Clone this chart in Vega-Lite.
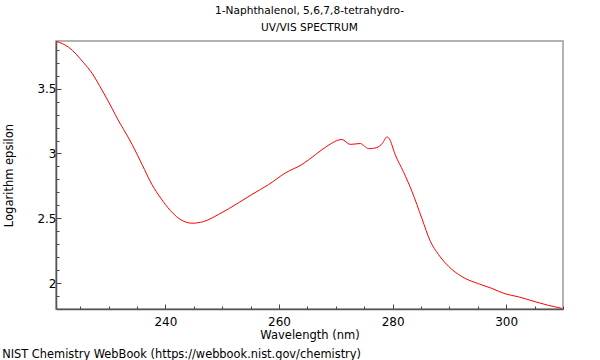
{
  "$schema": "https://vega.github.io/schema/vega-lite/v6.json",
  "padding": {"left": 2, "top": 5, "right": 5, "bottom": 2},
  "background": "white",
  "title": {"text": "NIST Chemistry WebBook (https://webbook.nist.gov/chemistry)", "orient": "bottom", "anchor": "start", "frame": "bounds", "fontSize": 11.4, "font": "DejaVu Sans", "fontWeight": "normal", "color": "#000000", "offset": 8, "dx": -1},
  "config": {"view": {"stroke": "#9a9a9a", "strokeWidth": 1.5}, "font": "DejaVu Sans"},
  "vconcat": [{
    "title": {"text": ["1-Naphthalenol, 5,6,7,8-tetrahydro-", "UV/VIS SPECTRUM"], "anchor": "middle", "frame": "group", "fontSize": 10.6, "fontWeight": "normal", "lineHeight": 17, "offset": 7, "color": "#000000"},
    "width": 507,
    "height": 268,
    "data": {"values": [
      {"wavelength": 220.75, "logeps": 3.866},
      {"wavelength": 222.98, "logeps": 3.82},
      {"wavelength": 225.62, "logeps": 3.70},
      {"wavelength": 227.08, "logeps": 3.62},
      {"wavelength": 228.84, "logeps": 3.49},
      {"wavelength": 230.6, "logeps": 3.35},
      {"wavelength": 231.79, "logeps": 3.25},
      {"wavelength": 232.66, "logeps": 3.185},
      {"wavelength": 234.14, "logeps": 3.07},
      {"wavelength": 235.9, "logeps": 2.915},
      {"wavelength": 237.64, "logeps": 2.76},
      {"wavelength": 239.2, "logeps": 2.655},
      {"wavelength": 240.88, "logeps": 2.56},
      {"wavelength": 242.34, "logeps": 2.50},
      {"wavelength": 244.68, "logeps": 2.462},
      {"wavelength": 246.74, "logeps": 2.475},
      {"wavelength": 249.38, "logeps": 2.53},
      {"wavelength": 252.9, "logeps": 2.62},
      {"wavelength": 255.24, "logeps": 2.684},
      {"wavelength": 258.18, "logeps": 2.76},
      {"wavelength": 261.12, "logeps": 2.85},
      {"wavelength": 264.04, "logeps": 2.915},
      {"wavelength": 266.4, "logeps": 2.99},
      {"wavelength": 268.44, "logeps": 3.056},
      {"wavelength": 271.08, "logeps": 3.108},
      {"wavelength": 272.55, "logeps": 3.07},
      {"wavelength": 274.31, "logeps": 3.077},
      {"wavelength": 275.07, "logeps": 3.056},
      {"wavelength": 275.77, "logeps": 3.037},
      {"wavelength": 277.18, "logeps": 3.045},
      {"wavelength": 278.24, "logeps": 3.08},
      {"wavelength": 279.0, "logeps": 3.128},
      {"wavelength": 279.4, "logeps": 3.115},
      {"wavelength": 280.47, "logeps": 2.99},
      {"wavelength": 281.9, "logeps": 2.86},
      {"wavelength": 283.39, "logeps": 2.71},
      {"wavelength": 285.15, "logeps": 2.50},
      {"wavelength": 286.63, "logeps": 2.324},
      {"wavelength": 288.09, "logeps": 2.22},
      {"wavelength": 290.43, "logeps": 2.106},
      {"wavelength": 292.79, "logeps": 2.036},
      {"wavelength": 295.13, "logeps": 1.995},
      {"wavelength": 297.47, "logeps": 1.959},
      {"wavelength": 299.83, "logeps": 1.917},
      {"wavelength": 302.17, "logeps": 1.894},
      {"wavelength": 305.11, "logeps": 1.856},
      {"wavelength": 307.45, "logeps": 1.828},
      {"wavelength": 309.79, "logeps": 1.805}
    ]},
    "mark": {"type": "line", "color": "#ff0000", "strokeWidth": 1, "interpolate": "monotone", "clip": true},
    "encoding": {
      "x": {
        "field": "wavelength", "type": "quantitative",
        "scale": {"domain": [220.75, 310], "nice": false, "zero": false},
        "axis": {
          "title": "Wavelength (nm)", "titleFontSize": 11.5, "titleFontWeight": "normal", "titleColor": "#000000", "titlePadding": 2,
          "values": [225, 230, 235, 240, 245, 250, 255, 260, 265, 270, 275, 280, 285, 290, 295, 300, 305, 310],
          "labelExpr": "datum.value % 20 === 0 ? datum.label : ''",
          "labelFontSize": 12, "labelColor": "#000000", "labelPadding": 12,
          "tickSize": {"condition": {"test": "datum.value % 20 === 0", "value": -5}, "value": -3},
          "tickColor": "#444444", "domainColor": "#555555", "domainWidth": 1.5, "grid": false, "labelFlush": false
        }
      },
      "y": {
        "field": "logeps", "type": "quantitative",
        "scale": {"domain": [1.8, 3.868], "nice": false, "zero": false},
        "axis": {
          "title": "Logarithm epsilon", "titleFontSize": 11.5, "titleFontWeight": "normal", "titleColor": "#000000", "titlePadding": 22,
          "values": [1.9, 2, 2.1, 2.2, 2.3, 2.4, 2.5, 2.6, 2.7, 2.8, 2.9, 3, 3.1, 3.2, 3.3, 3.4, 3.5, 3.6, 3.7, 3.8],
          "labelExpr": "abs(datum.value * 2 - round(datum.value * 2)) < 0.000001 ? format(datum.value, '') : ''",
          "labelFontSize": 12, "labelColor": "#000000", "labelPadding": 5,
          "tickSize": {"condition": {"test": "abs(datum.value * 2 - round(datum.value * 2)) < 0.000001", "value": -5}, "value": -3},
          "tickColor": "#444444", "domainColor": "#555555", "domainWidth": 1.5, "grid": false, "labelFlush": false
        }
      }
    }
  }]
}
